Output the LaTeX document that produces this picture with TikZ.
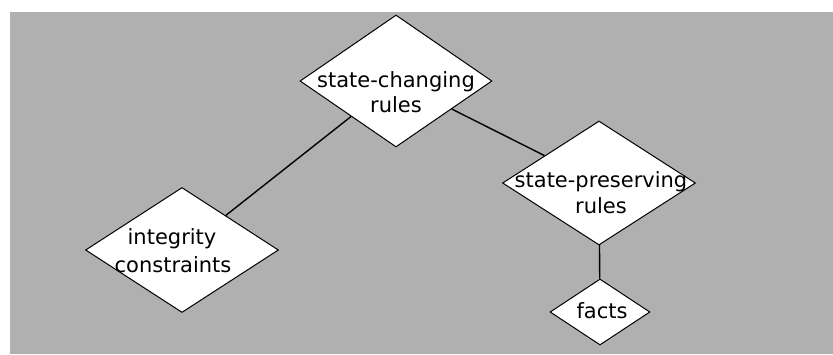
\documentclass[tikz,border=0pt]{standalone}
\usepackage{fontspec}
\setmainfont{DejaVu Sans}
\usetikzlibrary{shapes.geometric}
\definecolor{bggray}{RGB}{176,176,176}
\tikzset{
  dia/.style={shape=diamond, draw=black, fill=white, line width=1pt, inner sep=0pt},
  lbl/.style={inner sep=0pt, anchor=base, font=\fontsize{21}{25}\selectfont},
  conn/.style={draw=black, line width=1.4pt}
}
\begin{document}
\begin{tikzpicture}[x=1pt,y=-1pt]
\useasboundingbox (0,0) rectangle (833,354);
\fill[white] (0,0) rectangle (833,354);
\fill[bggray] (10,12) rectangle (833,354);
% diamonds
\node[dia, minimum width=192pt, minimum height=132pt] (sc) at (396,81) {};
\node[dia, minimum width=193pt, minimum height=124pt] (sp) at (599,183) {};
\node[dia, minimum width=193pt, minimum height=125pt] (ic) at (182,250) {};
\node[dia, minimum width=100pt, minimum height=66pt] (fa) at (600,312) {};
% connectors
\draw[conn] (sc) -- (ic);
\draw[conn] (sc) -- (sp);
\draw[conn] (sp) -- (fa);
% labels
\node[lbl] (sc1) at (396,87) {state-changing};
\node[lbl] (sc2) at (396,112) {rules};
\node[lbl] (sp1) at (601,187) {state-preserving};
\node[lbl] (sp2) at (601,213) {rules};
\node[lbl] (ic1) at (172,244) {integrity};
\node[lbl] (ic2) at (173,272) {constraints};
\node[lbl] (fa1) at (602,318) {facts};
\end{tikzpicture}
\end{document}
